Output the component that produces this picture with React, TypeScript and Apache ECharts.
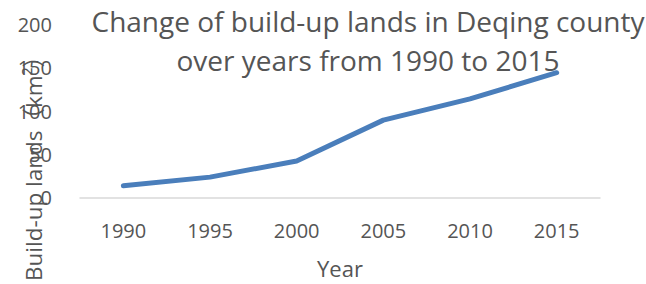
import React, { useEffect, useRef } from "react";
import * as echarts from "echarts";

const years = ["1990", "1995", "2000", "2005", "2010", "2015"];
const builtUpArea = [14, 24, 42.5, 89.5, 114, 144];
const yTicks = { min: 0, max: 200, interval: 50 };
const titleText = "Change of build-up lands in Deqing county\nover years from 1990 to 2015";
const yName = "Build-up lands（km²）";
const xName = "Year";

const FONT = "'Open Sans', 'Noto Sans', 'Noto Sans CJK SC', sans-serif";
const TEXT = "#555555";

export default function App() {
  const ref = useRef<HTMLDivElement>(null);
  useEffect(() => {
    if (!ref.current) return;
    const chart = echarts.init(ref.current, null, { renderer: "svg" });
    chart.setOption({
      animation: false,
      backgroundColor: "#ffffff",
      title: {
        text: titleText,
        left: 363,
        top: -4,
        textAlign: "center",
        textStyle: {
          fontFamily: FONT,
          fontSize: 28,
          fontWeight: "normal",
          color: TEXT,
          lineHeight: 39,
        },
      },
      grid: { left: 80, right: 46, top: 24, bottom: 80.5, containLabel: false },
      xAxis: {
        type: "category",
        data: years,
        boundaryGap: true,
        name: xName,
        nameLocation: "middle",
        nameGap: 59,
        nameTextStyle: { fontFamily: FONT, fontSize: 22, color: TEXT },
        axisLine: { show: true, lineStyle: { color: "#d9d9d9", width: 1.5 } },
        axisTick: { show: false },
        axisLabel: { fontFamily: FONT, fontSize: 20, color: TEXT, margin: 23 },
        splitLine: { show: false },
      },
      yAxis: {
        type: "value",
        min: yTicks.min,
        max: yTicks.max,
        interval: yTicks.interval,
        axisLine: { show: false },
        axisTick: { show: false },
        axisLabel: { fontFamily: FONT, fontSize: 20, color: TEXT, margin: 28 },
        splitLine: { show: false },
      },
      graphic: [
        {
          type: "text",
          x: 33,
          y: 163,
          rotation: Math.PI / 2,
          style: {
            text: yName,
            fontFamily: FONT,
            fontSize: 22.5,
            fill: TEXT,
            align: "center",
            verticalAlign: "middle",
          },
        },
      ],
      series: [
        {
          type: "line",
          data: builtUpArea,
          symbol: "none",
          lineStyle: { color: "#4a7ebb", width: 5, cap: "round", join: "round" },
        },
      ],
    });
    return () => chart.dispose();
  }, []);
  return <div ref={ref} style={{ width: 646, height: 284, position: "absolute", left: 0, top: 0 }} />;
}
